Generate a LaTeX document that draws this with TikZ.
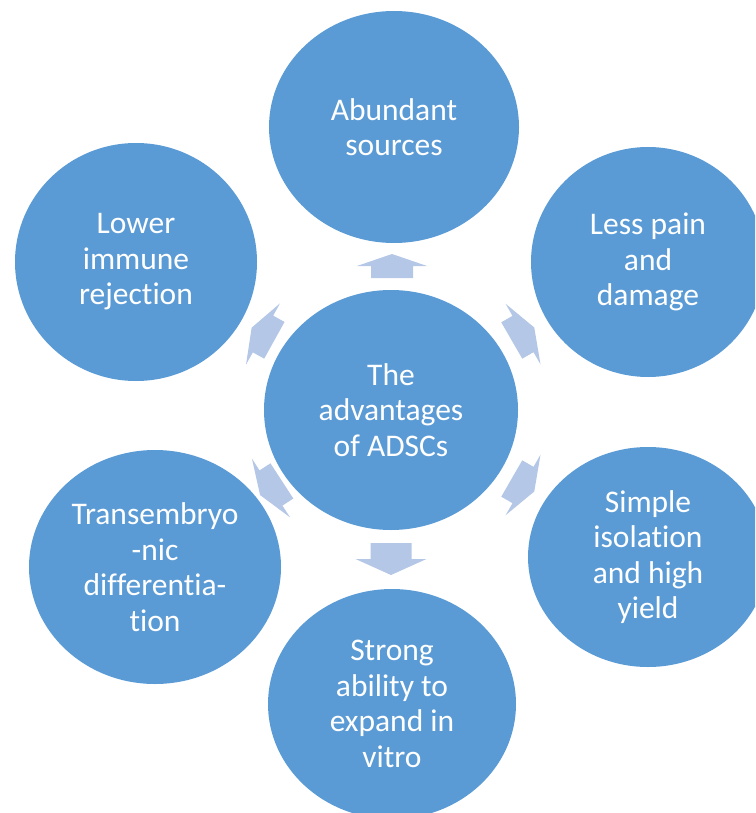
\documentclass[tikz,border=0pt]{standalone}
\usepackage{fontspec}
\setmainfont[Ligatures=NoCommon]{Carlito}
\usetikzlibrary{shapes.geometric}
\definecolor{circblue}{HTML}{5B9BD5}
\definecolor{arrblue}{HTML}{B4C7E7}
\tikzset{
  bubble/.style={ellipse, fill=circblue, text=white, inner sep=0pt, align=center,
    font=\fontsize{31.5}{35.5}\selectfont},
  blockarrow/.style={fill=arrblue},
}
\newcommand{\barrow}[6]{%
  \begin{scope}[shift={(#1,#2)},rotate=#3]
    \fill[blockarrow] (-#4/2,-#5) -- (0,-#5) -- (0,-#6) -- (#4/2,0) -- (0,#6) -- (0,#5) -- (-#4/2,#5) -- cycle;
  \end{scope}}
\begin{document}
\begin{tikzpicture}[x=1pt,y=-1pt]
\useasboundingbox (0,0) rectangle (755,813);
\clip (0,0) rectangle (755,813);
\node[bubble, minimum width=254, minimum height=240] (center) at (391,410) {The\\advantages\\of ADSCs};
\node[bubble, minimum width=250, minimum height=232] (top) at (394,127) {Abundant\\sources};
\node[bubble, minimum width=234, minimum height=230] (tr) at (648,262) {Less pain\\and\\damage};
\node[bubble, minimum width=240, minimum height=220] (br) at (648,557) {Simple\\isolation\\and high\\yield};
\node[bubble, minimum width=248, minimum height=230] (bot) at (392,704) {Strong\\ability to\\expand in\\vitro};
\node[bubble, minimum width=252, minimum height=234] (bl) at (155,567) {Transembryo\\-nic\\differentia-\\tion};
\node[bubble, minimum width=242, minimum height=238] (tl) at (136,262) {Lower\\immune\\rejection};
\barrow{392}{266}{90}{24}{21}{35}
\barrow{391}{559}{-90}{32}{20.5}{35.5}
\barrow{523}{334}{30}{26}{21}{35}
\barrow{523}{485}{-30}{26}{21}{35}
\barrow{271}{488}{-147}{26}{21}{35}
\barrow{263}{334}{151}{26}{21}{35}
\end{tikzpicture}
\end{document}
